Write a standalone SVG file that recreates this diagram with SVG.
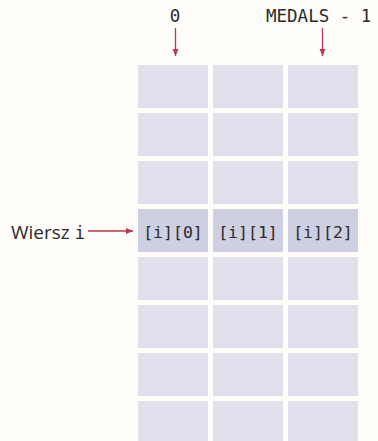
<svg xmlns="http://www.w3.org/2000/svg" width="378" height="441" viewBox="0 0 378 441">
<style>
.cell{fill:#e1e0ec}
.hl{fill:#cfcfe2}
.mono{font-family:"DejaVu Sans Mono","Liberation Mono",monospace;fill:#2b2b2b}
.lbl{font-size:17.5px}
.ct{font-size:16.5px;text-anchor:middle}
.sans{font-family:"Open Sans","Liberation Sans",sans-serif;fill:#2b2b2b;font-size:19px}
.arr{stroke:#b8364f;stroke-width:1.3;fill:none}
</style>
<defs>
<marker id="ah" markerWidth="8" markerHeight="8" refX="7" refY="4" orient="auto" markerUnits="userSpaceOnUse">
<path d="M0,1 L7,4 L0,7 z" fill="#b8364f"/>
</marker>
</defs>
<rect width="378" height="441" fill="#fffdfa"/>
<g id="grid">
<rect class="cell" x="138" y="65" width="70" height="43"/><rect class="cell" x="213" y="65" width="70" height="43"/><rect class="cell" x="288" y="65" width="70" height="43"/>
<rect class="cell" x="138" y="113" width="70" height="43"/><rect class="cell" x="213" y="113" width="70" height="43"/><rect class="cell" x="288" y="113" width="70" height="43"/>
<rect class="cell" x="138" y="161" width="70" height="43"/><rect class="cell" x="213" y="161" width="70" height="43"/><rect class="cell" x="288" y="161" width="70" height="43"/>
<rect class="cell" x="138" y="257" width="70" height="43"/><rect class="cell" x="213" y="257" width="70" height="43"/><rect class="cell" x="288" y="257" width="70" height="43"/>
<rect class="cell" x="138" y="305" width="70" height="43"/><rect class="cell" x="213" y="305" width="70" height="43"/><rect class="cell" x="288" y="305" width="70" height="43"/>
<rect class="cell" x="138" y="353" width="70" height="43"/><rect class="cell" x="213" y="353" width="70" height="43"/><rect class="cell" x="288" y="353" width="70" height="43"/>
<rect class="cell" x="138" y="401" width="70" height="43"/><rect class="cell" x="213" y="401" width="70" height="43"/><rect class="cell" x="288" y="401" width="70" height="43"/>
</g>
<g id="row-i">
<g id="cell-i0"><rect class="hl" x="138" y="209" width="70" height="43"/><text class="mono ct" x="173" y="238">[i][0]</text></g>
<g id="cell-i1"><rect class="hl" x="213" y="209" width="70" height="43"/><text class="mono ct" x="248" y="238">[i][1]</text></g>
<g id="cell-i2"><rect class="hl" x="288" y="209" width="70" height="43"/><text class="mono ct" x="323" y="238">[i][2]</text></g>
</g>
<g id="label-0"><text class="mono lbl" x="175" y="22" text-anchor="middle">0</text></g>
<g id="label-medals"><text class="mono lbl" x="266" y="22">MEDALS - 1</text></g>
<g id="label-row"><text class="sans" x="11" y="239">Wiersz <tspan class="mono" style="font-size:17px">i</tspan></text></g>
<g id="connectors">
<line class="arr" x1="175.5" y1="28" x2="175.5" y2="56" marker-end="url(#ah)"/>
<line class="arr" x1="322.5" y1="28" x2="322.5" y2="56" marker-end="url(#ah)"/>
<line class="arr" x1="88" y1="231" x2="133" y2="231" marker-end="url(#ah)"/>
</g>
</svg>
